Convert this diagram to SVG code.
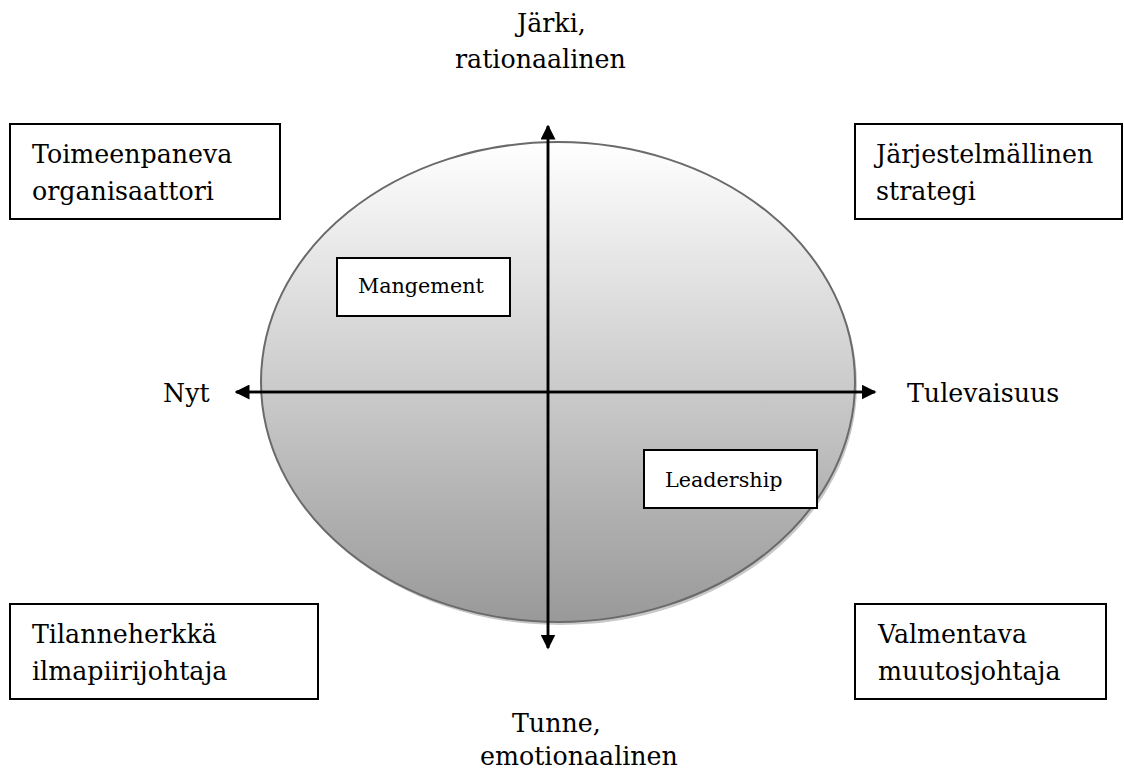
<svg xmlns="http://www.w3.org/2000/svg" width="1124" height="772" viewBox="0 0 1124 772">
<style>
.box{fill:#fff;stroke:#000;stroke-width:2}
text{font-family:'DejaVu Serif',serif;fill:#000}
.big{font-size:25.3px}
.sm{font-size:20.7px}
.ax{stroke:#000;stroke-width:2.5;fill:none}
</style>
<defs>
<linearGradient id="g" x1="0" y1="0" x2="0" y2="1">
<stop offset="0" stop-color="#ffffff"/>
<stop offset="1" stop-color="#999999"/>
</linearGradient>
<marker id="ah" viewBox="0 0 10 10" refX="9" refY="5" markerWidth="6" markerHeight="6" markerUnits="strokeWidth" orient="auto">
<path d="M0,0 L10,5 L0,10 Z" fill="#000"/>
</marker>
</defs>
<g id="ellipse">
<ellipse cx="560" cy="385" rx="297" ry="240" fill="#c8c8c8"/>
<ellipse cx="558" cy="382" rx="297" ry="240" fill="url(#g)" stroke="#6a6a6a" stroke-width="2"/>
</g>
<g id="connectors">
<line class="ax" x1="548" y1="648" x2="548" y2="126" marker-end="url(#ah)"/>
<line class="ax" x1="548" y1="126" x2="548" y2="648" marker-end="url(#ah)"/>
<line class="ax" x1="875" y1="392" x2="236" y2="392" marker-end="url(#ah)"/>
<line class="ax" x1="236" y1="392" x2="875" y2="392" marker-end="url(#ah)"/>
</g>
<g id="top-left">
<rect class="box" x="10" y="124" width="270" height="95"/>
<text class="big" x="32" y="163">Toimeenpaneva</text>
<text class="big" x="32" y="200">organisaattori</text>
</g>
<g id="top-right">
<rect class="box" x="855" y="124" width="267" height="95"/>
<text class="big" x="876" y="163">Järjestelmällinen</text>
<text class="big" x="876" y="200">strategi</text>
</g>
<g id="bottom-left">
<rect class="box" x="10" y="604" width="308" height="95"/>
<text class="big" x="32" y="643">Tilanneherkkä</text>
<text class="big" x="32" y="680">ilmapiirijohtaja</text>
</g>
<g id="bottom-right">
<rect class="box" x="855" y="604" width="251" height="95"/>
<text class="big" x="878" y="643">Valmentava</text>
<text class="big" x="878" y="680">muutosjohtaja</text>
</g>
<g id="management">
<rect class="box" x="337" y="258" width="173" height="58"/>
<text class="sm" x="358" y="293">Mangement</text>
</g>
<g id="leadership">
<rect class="box" x="644" y="450" width="173" height="58"/>
<text class="sm" x="665" y="487">Leadership</text>
</g>
<g id="labels">
<text class="big" x="517" y="32">Järki,</text>
<text class="big" x="455" y="68">rationaalinen</text>
<text class="big" x="512" y="732">Tunne,</text>
<text class="big" x="480" y="765">emotionaalinen</text>
<text class="big" x="163" y="402">Nyt</text>
<text class="big" x="907" y="402">Tulevaisuus</text>
</g>
</svg>
